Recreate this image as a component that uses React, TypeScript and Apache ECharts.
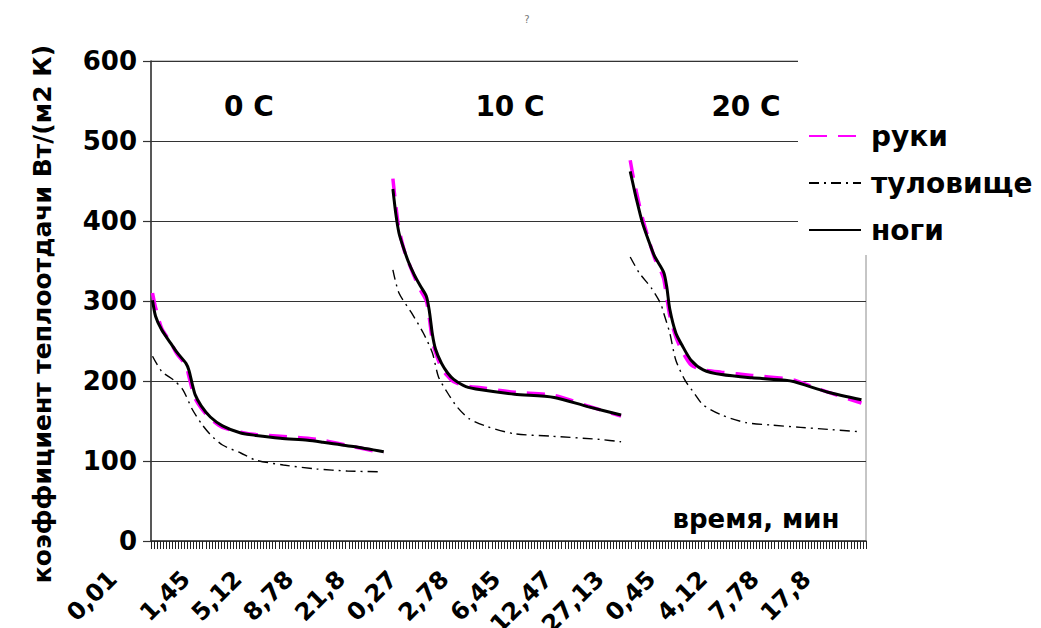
import React, { useEffect, useRef } from "react";
import * as echarts from "echarts";

// Samples along the time axis (three runs placed one after another)
const sampleCount = 235;

// Time labels (min) and the samples they belong to
const tickLabelSamples = [0, 11, 28, 45, 62, 79, 96, 113, 130, 147, 164, 181, 198, 215];
const tickLabels = ["0,01", "1,45", "5,12", "8,78", "21,8", "0,27", "2,78", "6,45", "12,47", "27,13", "0,45", "4,12", "7,78", "17,8"];

const seriesNames = ["руки", "туловище", "ноги"];
const panelTitles = ["0 C", "10 C", "20 C"];
const yTicks = [0, 100, 200, 300, 400, 500, 600];

// [sample, W/(m2 K)] — hands
const handsAt0: [number, number][] = [[0, 310], [1, 292], [3, 266], [6, 248], [8, 234], [11, 219], [12, 205], [13, 190], [14, 178], [16, 166], [19, 153], [23, 142], [29, 136], [34, 133], [42, 131], [51, 128.5], [56, 126], [66, 118], [76, 110]];
const handsAt10: [number, number][] = [[79, 453], [80, 418], [81, 390], [83, 360], [86, 331], [88, 314], [90, 300], [91, 278], [92, 250], [93, 236], [95, 216], [97, 206], [99, 199], [103, 194], [108, 191.5], [119, 186], [132, 182], [143, 169], [154, 156]];
const handsAt20: [number, number][] = [[157, 476], [158, 455], [159, 437], [161, 404], [163, 378], [165, 354], [167, 338], [168, 328], [169, 305], [170, 282], [172, 255], [174, 238], [177, 220], [181, 214], [187, 211], [197, 207], [208, 203], [211, 201], [222, 186], [233, 172.5]];

// trunk
const trunkAt0: [number, number][] = [[0, 231], [3, 212], [7, 201], [10, 189], [13, 165], [16, 147], [19, 133], [23, 120], [29, 110], [34, 101], [43, 95], [54, 90], [64, 87.5], [75, 86.5]];
const trunkAt10: [number, number][] = [[79, 339], [81, 310], [85, 286], [89, 260], [92, 235], [94, 205], [97, 185], [100, 168], [104, 153], [110, 143], [119, 134], [131, 131], [147, 127], [154, 124]];
const trunkAt20: [number, number][] = [[157, 355], [160, 335], [164, 316], [167, 297], [168, 285], [170, 260], [172, 226], [175, 201], [178, 185], [181, 170], [187, 157.5], [195, 148], [203, 145], [213, 142], [222, 139.5], [233, 136.5]];

// legs
const legsAt0: [number, number][] = [[0, 301], [1, 281], [3, 264], [6, 247], [8, 236], [11, 222], [12, 213], [13, 197], [14, 183], [16, 169], [19, 155], [23, 144], [29, 135], [34, 132], [42, 128.5], [51, 126], [56, 123.5], [66, 118], [76, 111.5]];
const legsAt10: [number, number][] = [[79, 440], [80, 408], [81, 385], [82, 372], [84, 350], [86, 333], [88, 319], [90, 306], [91, 287], [92, 258], [93, 240], [95, 222], [97, 210], [99, 202], [103, 193], [108, 189], [119, 183.5], [132, 179.5], [143, 168], [154, 157.5]];
const legsAt20: [number, number][] = [[157, 462], [158, 445], [159, 428], [161, 398], [163, 376], [165, 356], [168, 336], [169, 318], [170, 290], [172, 260], [174, 245], [177, 226], [181, 214], [187, 208], [197, 204], [208, 201], [211, 199], [222, 186], [233, 176.5]];

const FONT = "DejaVu Sans";

export default function App() {
  const ref = useRef<HTMLDivElement>(null);

  useEffect(() => {
    if (!ref.current) return;
    const chart = echarts.init(ref.current, null, { renderer: "svg" });

    const categories = Array.from({ length: sampleCount }, (_, i) => String(i + 1));
    const labelAt = new Map<number, string>(tickLabelSamples.map((s, i) => [s, tickLabels[i]]));

    const groups = [
      { name: seriesNames[0], style: { color: "#ff00ff", width: 3.5, type: [18, 11] }, runs: [handsAt0, handsAt10, handsAt20] },
      { name: seriesNames[1], style: { color: "#000000", width: 1.4, type: [10, 5, 2, 5] }, runs: [trunkAt0, trunkAt10, trunkAt20] },
      { name: seriesNames[2], style: { color: "#000000", width: 3, type: "solid" }, runs: [legsAt0, legsAt10, legsAt20] },
    ];

    const series = groups.flatMap((g, gi) =>
      g.runs.map((run) => ({
        type: "line",
        name: g.name,
        data: run,
        symbol: "none",
        showSymbol: false,
        smooth: 0.25,
        silent: true,
        z: 2 + gi,
        lineStyle: { ...g.style, cap: "butt" },
        itemStyle: { color: g.style.color },
      }))
    );

    const panelCenters = [249, 510, 746];

    chart.setOption({
      animation: false,
      backgroundColor: "#ffffff",
      grid: {
        left: 151,
        top: 61,
        width: 715,
        height: 480,
        containLabel: false,
        outerBoundsMode: "none",
        show: true,
        borderColor: "#8c8c8c",
        borderWidth: 1,
      },
      xAxis: {
        type: "category",
        data: categories,
        boundaryGap: true,
        axisLine: { show: true, lineStyle: { color: "#333", width: 1.5 } },
        axisTick: { show: true, interval: 0, length: 8, lineStyle: { color: "#222", width: 1 } },
        axisLabel: {
          interval: (index: number) => labelAt.has(index),
          // the first time label sits further left, clear of the value axis
          formatter: (_v: string, index: number) =>
            index === tickLabelSamples[0] ? `{lead|${labelAt.get(index)}}` : labelAt.get(index) ?? "",
          rich: {
            lead: {
              fontFamily: FONT,
              fontWeight: "bold",
              fontSize: 24,
              color: "#000",
              padding: [0, 28, 56, 0],
            },
          },
          rotate: 45,
          margin: 34,
          fontFamily: FONT,
          fontWeight: "bold",
          fontSize: 24,
          color: "#000",
        },
        splitLine: { show: false },
      },
      yAxis: {
        type: "value",
        min: yTicks[0],
        max: yTicks[yTicks.length - 1],
        interval: 100,
        axisLine: { show: true, lineStyle: { color: "#333", width: 1.5 } },
        axisTick: { show: true, length: 8, lineStyle: { color: "#333", width: 1.2 } },
        axisLabel: {
          margin: 14,
          fontFamily: FONT,
          fontWeight: "bold",
          fontSize: 26,
          color: "#000",
        },
        splitLine: { show: true, lineStyle: { color: "#333", width: 1.2 } },
      },
      legend: {
        orient: "vertical",
        left: 798,
        top: 55,
        padding: [67, 5, 11, 10],
        backgroundColor: "#ffffff",
        itemWidth: 52,
        itemHeight: 14,
        itemGap: 19,
        selectedMode: false,
        itemStyle: { opacity: 0 },
        data: seriesNames,
        textStyle: {
          fontFamily: FONT,
          fontWeight: "bold",
          fontSize: 28,
          color: "#000",
          padding: [0, 0, 0, 5],
        },
      },
      graphic: [
        ...panelTitles.map((t, i) => ({
          type: "text",
          x: panelCenters[i],
          y: 106,
          z: 10,
          style: {
            text: t,
            fontFamily: FONT,
            fontWeight: "bold",
            fontSize: 28,
            fill: "#000",
            align: "center",
            verticalAlign: "middle",
          },
        })),
        {
          type: "text",
          x: 756,
          y: 519,
          z: 10,
          style: {
            text: "время, мин",
            fontFamily: FONT,
            fontWeight: "bold",
            fontSize: 26,
            fill: "#000",
            align: "center",
            verticalAlign: "middle",
          },
        },
        {
          type: "text",
          x: 42,
          y: 314,
          rotation: Math.PI / 2,
          z: 10,
          style: {
            text: "коэффициент теплоотдачи Вт/(м2 К)",
            fontFamily: FONT,
            fontWeight: "bold",
            fontSize: 25,
            fill: "#000",
            align: "center",
            verticalAlign: "middle",
          },
        },
        {
          type: "text",
          x: 527,
          y: 19,
          z: 10,
          style: {
            text: "?",
            fontFamily: FONT,
            fontSize: 10,
            fill: "#777",
            align: "center",
            verticalAlign: "middle",
          },
        },
      ],
      series,
    });

    return () => chart.dispose();
  }, []);

  return (
    <div
      ref={ref}
      style={{ position: "fixed", left: 0, top: 0, width: 1041, height: 628, background: "#fff" }}
    />
  );
}
